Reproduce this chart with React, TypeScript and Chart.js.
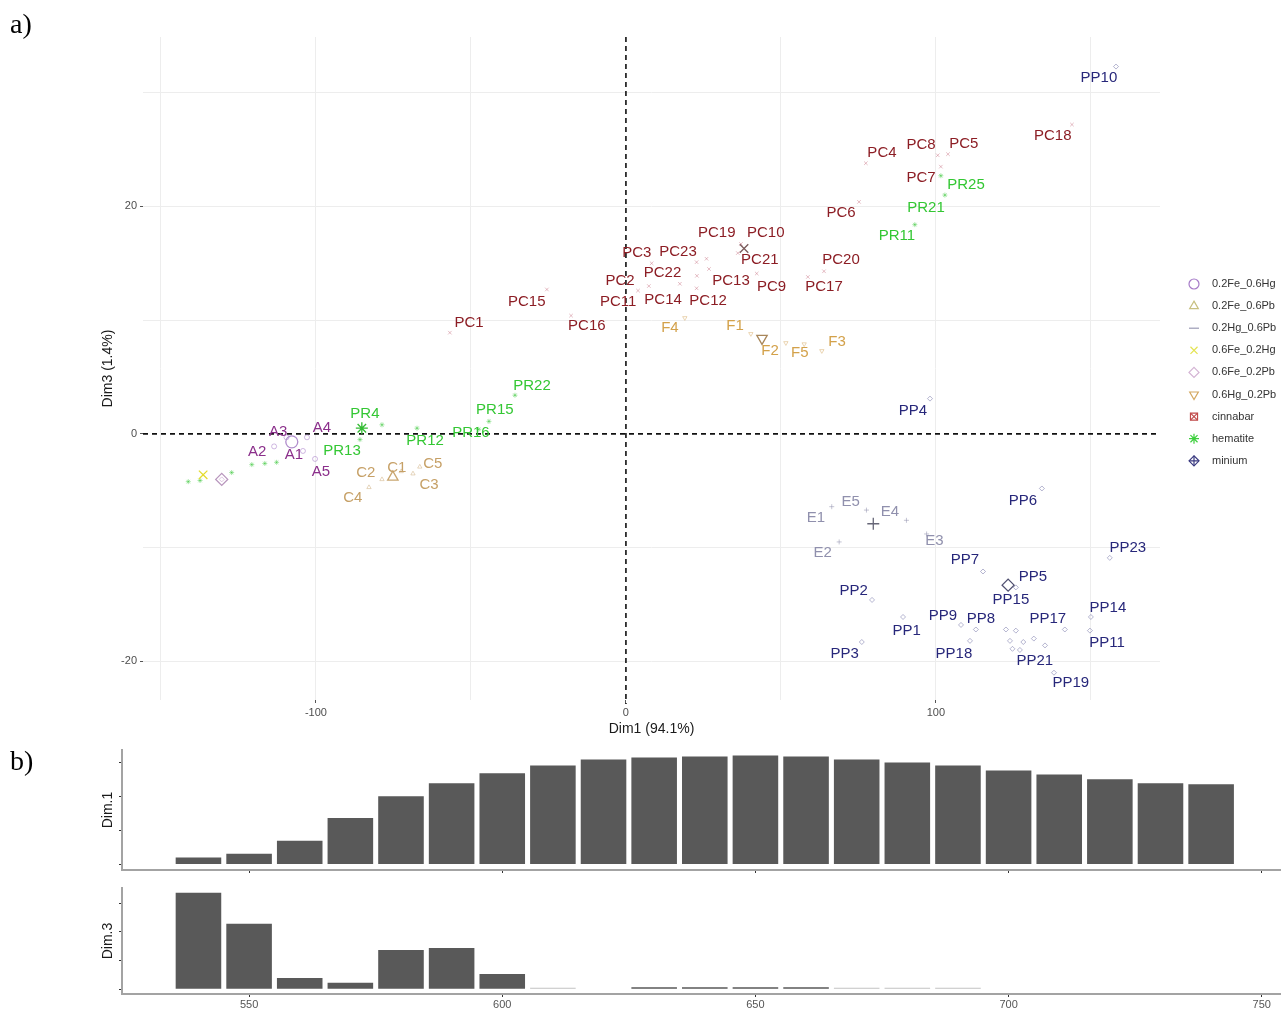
import React, { useEffect, useRef } from 'react';
import { Chart, registerables } from 'chart.js';
import { drawPoint } from 'chart.js/helpers';

Chart.register(...registerables);

const FONT = '"Liberation Sans", Arial, Helvetica, sans-serif';

// ---------- panel a) PCA individuals ----------
const GROUPS = ['0.2Fe_0.6Hg', '0.2Fe_0.6Pb', '0.2Hg_0.6Pb', '0.6Fe_0.2Hg', '0.6Fe_0.2Pb', '0.6Hg_0.2Pb', 'cinnabar', 'hematite', 'minium'];

const A_NAMES = ['A1', 'A2', 'A3', 'A4', 'A5'];
const A_DIM1 = [-104.2, -113.5, -109.5, -102.9, -100.3];
const A_DIM3 = [-1.5, -1.1, -0.3, -0.3, -2.2];
const A_LBL1 = [-107.1, -119.0, -112.2, -98.1, -98.4];
const A_LBL3 = [-1.8, -1.6, 0.2, 0.5, -3.3];

const C_NAMES = ['C1', 'C2', 'C3', 'C4', 'C5'];
const C_DIM1 = [-72.5, -78.7, -68.7, -82.9, -66.5];
const C_DIM3 = [-3.3, -4.0, -3.5, -4.7, -2.9];
const C_LBL1 = [-73.9, -83.9, -63.5, -88.1, -62.3];
const C_LBL3 = [-3.0, -3.4, -4.5, -5.6, -2.6];

const E_NAMES = ['E1', 'E2', 'E3', 'E4', 'E5'];
const E_DIM1 = [66.4, 68.8, 97.0, 90.5, 77.6];
const E_DIM3 = [-6.4, -9.5, -8.8, -7.6, -6.7];
const E_LBL1 = [61.3, 63.5, 99.5, 85.2, 72.5];
const E_LBL3 = [-7.4, -10.5, -9.4, -6.9, -6.0];

const FEHG_NAMES = [''];
const FEHG_DIM1 = [-136.4];
const FEHG_DIM3 = [-3.6];

const FEPB_NAMES = [''];
const FEPB_DIM1 = [-130.4];
const FEPB_DIM3 = [-4.0];

const F_NAMES = ['F1', 'F2', 'F3', 'F4', 'F5'];
const F_DIM1 = [40.3, 51.6, 63.2, 19.0, 57.5];
const F_DIM3 = [8.8, 8.0, 7.3, 10.2, 7.9];
const F_LBL1 = [35.2, 46.5, 68.1, 14.2, 56.1];
const F_LBL3 = [9.5, 7.3, 8.1, 9.3, 7.1];

const PC_NAMES = ['PC1', 'PC2', 'PC3', 'PC4', 'PC5', 'PC6', 'PC7', 'PC8', 'PC9', 'PC10', 'PC11', 'PC12', 'PC13', 'PC14', 'PC15', 'PC16', 'PC17', 'PC18', 'PC19', 'PC20', 'PC21', 'PC22', 'PC23'];
const PC_DIM1 = [-56.8, 7.4, 8.3, 77.4, 103.9, 75.2, 101.6, 100.6, 42.2, 37.1, 3.9, 22.8, 26.8, 17.4, -25.5, -17.7, 58.7, 143.9, 26.0, 63.9, 36.1, 22.9, 22.8];
const PC_DIM3 = [8.9, 13.0, 15.0, 23.8, 24.6, 20.4, 23.5, 24.5, 14.1, 16.7, 12.6, 12.8, 14.5, 13.2, 12.7, 10.4, 13.8, 27.2, 15.4, 14.3, 15.9, 13.9, 15.1];
const PC_LBL1 = [-50.6, -1.9, 3.5, 82.6, 109.0, 69.4, 95.2, 95.2, 47.0, 45.1, -2.5, 26.5, 33.9, 12.0, -32.0, -12.6, 63.9, 137.7, 29.3, 69.4, 43.2, 11.8, 16.8];
const PC_LBL3 = [9.8, 13.5, 15.9, 24.7, 25.5, 19.4, 22.5, 25.4, 12.9, 17.7, 11.6, 11.7, 13.5, 11.8, 11.6, 9.5, 12.9, 26.2, 17.7, 15.3, 15.3, 14.2, 16.0];

const PR_NAMES = ['PR4', 'PR11', 'PR12', 'PR13', 'PR15', 'PR16', 'PR21', 'PR22', 'PR25', '', '', '', '', '', ''];
const PR_DIM1 = [-78.7, 93.2, -67.4, -85.8, -44.2, -47.5, 102.9, -35.8, 101.6, -141.2, -137.4, -127.2, -120.7, -116.5, -112.7];
const PR_DIM3 = [0.8, 18.4, 0.5, -0.5, 1.1, 0.4, 21.0, 3.4, 22.7, -4.2, -4.1, -3.4, -2.7, -2.6, -2.5];
const PR_LBL1 = [-84.2, 87.4, -64.8, -91.6, -42.3, -50.0, 96.8, -30.3, 109.7, 0, 0, 0, 0, 0, 0];
const PR_LBL3 = [1.8, 17.4, -0.6, -1.5, 2.1, 0.1, 19.9, 4.2, 21.9, 0, 0, 0, 0, 0, 0];

const PP_NAMES = ['PP1', 'PP2', 'PP3', 'PP4', 'PP5', 'PP6', 'PP7', 'PP8', 'PP9', 'PP10', 'PP11', 'PP14', 'PP15', 'PP17', 'PP18', 'PP19', 'PP21', 'PP23', '', '', '', '', '', ''];
const PP_DIM1 = [89.4, 79.4, 76.1, 98.1, 125.8, 134.2, 115.2, 112.9, 108.1, 158.1, 149.7, 150.0, 122.6, 141.6, 111.0, 138.1, 131.6, 156.1, 125.8, 123.9, 128.2, 135.2, 124.7, 127.1];
const PP_DIM3 = [-16.1, -14.6, -18.3, 3.1, -13.5, -4.8, -12.1, -17.2, -16.8, 32.3, -17.3, -16.1, -17.2, -17.2, -18.2, -21.0, -18.0, -10.9, -17.3, -18.2, -18.3, -18.6, -18.9, -19.0];
const PP_LBL1 = [90.6, 73.5, 70.6, 92.6, 131.3, 128.1, 109.4, 114.5, 102.3, 152.6, 155.2, 155.5, 124.2, 136.1, 105.8, 143.5, 131.9, 161.9, 0, 0, 0, 0, 0, 0];
const PP_LBL3 = [-17.3, -13.8, -19.3, 2.0, -12.6, -5.9, -11.1, -16.3, -16.0, 31.3, -18.4, -15.3, -14.6, -16.3, -19.3, -21.9, -20.0, -10.0, 0, 0, 0, 0, 0, 0];

// group mean points (larger symbols)
const CENTROID_DIM1 = [-107.8, -75.2, 79.8, -136.4, -130.4, 43.9, 38.1, -85.2, 123.3];
const CENTROID_DIM3 = [-0.7, -3.8, -7.9, -3.6, -4.0, 8.4, 16.3, 0.5, -13.3];

const X_GRID = [-150, -100, -50, 0, 50, 100, 150];
const Y_GRID = [-20, -10, 0, 10, 20, 30];

// ---------- panel b) contributions ----------
const WAVELENGTHS = [540, 550, 560, 570, 580, 590, 600, 610, 620, 630, 640, 650, 660, 670, 680, 690, 700, 710, 720, 730, 740];
const DIM1_CONTRIB = [0.41, 0.64, 1.40, 2.73, 4.01, 4.77, 5.35, 5.81, 6.16, 6.28, 6.34, 6.40, 6.34, 6.16, 5.99, 5.81, 5.52, 5.29, 5.00, 4.77, 4.71];
const DIM3_CONTRIB = [33.6, 22.8, 3.9, 2.2, 13.7, 14.4, 5.3, 0.5, 0, 0.7, 0.7, 0.7, 0.7, 0.5, 0.5, 0.5, 0, 0, 0, 0, 0];
const BAR_X_TICKS = [550, 600, 650, 700, 750];
const DIM1_Y_TICKS = [0, 2, 4, 6];
const DIM3_Y_TICKS = [0, 10, 20, 30];

// ---------- styles ----------
const TEXT_COLORS = ['#8b2f8b', '#c6a066', '#9090ad', '#d8d040', '#c8a8cc', '#d3a14a', '#8c1d24', '#33c733', '#27277a'];
const POINT_COLORS = ['rgba(150,100,190,0.45)', 'rgba(200,165,110,0.45)', 'rgba(140,140,170,0.5)', 'rgba(220,215,60,0.8)', 'rgba(200,160,205,0.6)', 'rgba(210,165,90,0.45)', 'rgba(190,90,110,0.4)', 'rgba(60,200,60,0.45)', 'rgba(90,90,150,0.45)'];
const POINT_STYLES = ['circle', 'triangle', 'cross', 'crossRot', 'rectRot', 'triangle', 'crossRot', 'star', 'rectRot'];
const POINT_ROTATIONS = [0, 0, 0, 0, 0, 180, 0, 0, 0];
const CENTROID_COLORS = ['#b08ccc', '#c9a670', '#666677', '#e4dc30', '#b896bd', '#a8865a', '#7a5a5a', '#33bb33', '#505070'];
const LEGEND_COLORS = ['#a67bc8', '#c8c080', '#9a9ab5', '#e3e350', '#d4b4d4', '#d4a860', '#c04a4a', '#3ccf3c', '#3a3a80'];
const LEGEND_STYLES: string[][] = [['circle'], ['triangle'], ['line'], ['crossRot'], ['rectRot'], ['triangle'], ['rect', 'crossRot'], ['star'], ['rectRot', 'cross']];

const GROUP_DATA = [
  { names: A_NAMES, d1: A_DIM1, d3: A_DIM3, l1: A_LBL1, l3: A_LBL3 },
  { names: C_NAMES, d1: C_DIM1, d3: C_DIM3, l1: C_LBL1, l3: C_LBL3 },
  { names: E_NAMES, d1: E_DIM1, d3: E_DIM3, l1: E_LBL1, l3: E_LBL3 },
  { names: FEHG_NAMES, d1: FEHG_DIM1, d3: FEHG_DIM3, l1: FEHG_DIM1, l3: FEHG_DIM3 },
  { names: FEPB_NAMES, d1: FEPB_DIM1, d3: FEPB_DIM3, l1: FEPB_DIM1, l3: FEPB_DIM3 },
  { names: F_NAMES, d1: F_DIM1, d3: F_DIM3, l1: F_LBL1, l3: F_LBL3 },
  { names: PC_NAMES, d1: PC_DIM1, d3: PC_DIM3, l1: PC_LBL1, l3: PC_LBL3 },
  { names: PR_NAMES, d1: PR_DIM1, d3: PR_DIM3, l1: PR_LBL1, l3: PR_LBL3 },
  { names: PP_NAMES, d1: PP_DIM1, d3: PP_DIM3, l1: PP_LBL1, l3: PP_LBL3 },
];

const pcaPlugin: any = {
  id: 'pcaDecor',
  beforeDatasetsDraw(chart: any) {
    const { ctx, chartArea: a, scales } = chart;
    const x0 = scales.x.getPixelForValue(0);
    const y0 = scales.y.getPixelForValue(0);
    ctx.save();
    ctx.strokeStyle = '#111';
    ctx.lineWidth = 1.6;
    ctx.setLineDash([5, 4]);
    ctx.beginPath();
    ctx.moveTo(x0, a.top);
    ctx.lineTo(x0, a.bottom + 4);
    ctx.stroke();
    ctx.beginPath();
    ctx.moveTo(a.left, y0);
    ctx.lineTo(a.right, y0);
    ctx.stroke();
    ctx.restore();
  },
  afterDatasetsDraw(chart: any) {
    const { ctx, scales } = chart;
    ctx.save();
    ctx.font = `15px ${FONT}`;
    ctx.textAlign = 'center';
    ctx.textBaseline = 'middle';
    GROUP_DATA.forEach((g, gi) => {
      ctx.fillStyle = TEXT_COLORS[gi];
      g.names.forEach((n, j) => {
        if (!n) return;
        ctx.fillText(n, scales.x.getPixelForValue(g.l1[j]), scales.y.getPixelForValue(g.l3[j]));
      });
    });
    ctx.restore();
  },
  afterDraw(chart: any) {
    const { ctx } = chart;
    ctx.save();
    GROUPS.forEach((name, i) => {
      const y = 284 + i * 22.1;
      ctx.strokeStyle = LEGEND_COLORS[i];
      ctx.fillStyle = 'rgba(0,0,0,0)';
      ctx.lineWidth = 1.2;
      LEGEND_STYLES[i].forEach((st) => {
        drawPoint(ctx, { pointStyle: st as any, rotation: POINT_ROTATIONS[i], radius: 5, borderWidth: 1.2 } as any, 1194, y);
      });
      ctx.fillStyle = '#333';
      ctx.font = `11px ${FONT}`;
      ctx.textAlign = 'left';
      ctx.textBaseline = 'middle';
      ctx.fillText(name, 1212, y);
    });
    ctx.restore();
  },
};

function scatterConfig(): any {
  const datasets: any[] = GROUP_DATA.map((g, i) => ({
    label: GROUPS[i],
    data: g.d1.map((x, j) => ({ x, y: g.d3[j] })),
    pointStyle: POINT_STYLES[i],
    pointRotation: POINT_ROTATIONS[i],
    pointRadius: 2.5,
    pointBorderWidth: 1,
    pointBorderColor: POINT_COLORS[i],
    pointBackgroundColor: 'rgba(0,0,0,0)',
  }));
  datasets.unshift({
    label: 'means',
    data: CENTROID_DIM1.map((x, i) => ({ x, y: CENTROID_DIM3[i] })),
    pointStyle: POINT_STYLES,
    pointRotation: POINT_ROTATIONS,
    pointRadius: 6,
    pointBorderWidth: 1.3,
    pointBorderColor: CENTROID_COLORS,
    pointBackgroundColor: 'rgba(0,0,0,0)',
  });
  const tickFont = { size: 11, family: FONT };
  return {
    type: 'scatter',
    data: { datasets },
    plugins: [pcaPlugin],
    options: {
      responsive: false,
      animation: false,
      events: [],
      layout: { padding: { top: 37, right: 121, bottom: 0, left: 0 } },
      plugins: { legend: { display: false }, tooltip: { enabled: false } },
      scales: {
        x: {
          type: 'linear',
          min: -155.8,
          max: 172.3,
          afterBuildTicks: (s: any) => { s.ticks = X_GRID.map((v) => ({ value: v })); },
          afterFit: (s: any) => { s.height = 40; },
          border: { display: false },
          grid: {
            color: (c: any) => (c.tick && c.tick.value === 0 ? 'rgba(0,0,0,0)' : '#ededed'),
            lineWidth: 1,
            drawTicks: true,
            tickLength: 3,
            tickColor: (c: any) => (c.tick && c.tick.value % 100 === 0 ? '#555' : 'rgba(0,0,0,0)'),
          },
          ticks: {
            autoSkip: false,
            maxRotation: 0,
            padding: 3,
            color: '#4d4d4d',
            font: tickFont,
            callback: (v: any) => (Number(v) % 100 === 0 ? String(v) : ''),
          },
          title: { display: true, text: 'Dim1 (94.1%)', color: '#1a1a1a', font: { size: 14, family: FONT }, padding: { top: 0, bottom: 2.6 } },
        },
        y: {
          type: 'linear',
          min: -23.4,
          max: 34.9,
          afterBuildTicks: (s: any) => { s.ticks = Y_GRID.map((v) => ({ value: v })); },
          afterFit: (s: any) => { s.width = 143; },
          border: { display: false },
          grid: {
            color: (c: any) => (c.tick && c.tick.value === 0 ? 'rgba(0,0,0,0)' : '#ededed'),
            lineWidth: 1,
            drawTicks: true,
            tickLength: 3,
            tickColor: (c: any) => (c.tick && c.tick.value % 20 === 0 ? '#555' : 'rgba(0,0,0,0)'),
          },
          ticks: {
            autoSkip: false,
            padding: 3,
            color: '#4d4d4d',
            font: tickFont,
            callback: (v: any) => (Number(v) % 20 === 0 ? String(v) : ''),
          },
          title: { display: true, text: 'Dim3 (1.4%)', color: '#1a1a1a', font: { size: 14, family: FONT }, padding: { top: 99.6, bottom: 0 } },
        },
      },
    },
  };
}

function barConfig(values: number[], yMin: number, yMax: number, yTicks: number[], title: string, showXLabels: boolean, xHeight: number, padTop: number, faintBelow: number): any {
  const axisColor = '#a3a3a3';
  return {
    type: 'bar',
    data: {
      datasets: [{
        data: WAVELENGTHS.map((w, i) => ({ x: w, y: values[i] })),
        backgroundColor: (c: any) => (c.raw && c.raw.y < faintBelow ? '#c2c2c2' : '#595959'),
        borderWidth: 0,
        barPercentage: 0.9,
        categoryPercentage: 1,
      }],
    },
    options: {
      responsive: false,
      animation: false,
      events: [],
      layout: { padding: { top: padTop, right: 0, bottom: 0, left: 0 } },
      plugins: { legend: { display: false }, tooltip: { enabled: false } },
      scales: {
        x: {
          type: 'linear',
          min: 524.9,
          max: 753.8,
          offset: false,
          afterBuildTicks: (s: any) => { s.ticks = BAR_X_TICKS.map((v) => ({ value: v })); },
          afterFit: (s: any) => { s.height = xHeight; },
          border: { display: true, color: axisColor, width: 2 },
          grid: { drawOnChartArea: false, drawTicks: true, tickLength: 3, tickColor: '#333', offset: false },
          ticks: {
            autoSkip: false,
            maxRotation: 0,
            padding: 1,
            color: '#555',
            font: { size: 11, family: FONT },
            callback: (v: any) => (showXLabels ? String(v) : ''),
          },
        },
        y: {
          type: 'linear',
          min: yMin,
          max: yMax,
          afterBuildTicks: (s: any) => { s.ticks = yTicks.map((v) => ({ value: v })); },
          afterFit: (s: any) => { s.width = 122; },
          border: { display: true, color: axisColor, width: 2 },
          grid: { drawOnChartArea: false, drawTicks: true, tickLength: 3, tickColor: '#333' },
          ticks: { padding: 0, callback: () => '' },
          title: { display: true, text: title, color: '#1a1a1a', font: { size: 14, family: FONT }, padding: { top: 99.6, bottom: 0 } },
        },
      },
    },
  };
}

export default function App() {
  const scatterRef = useRef<HTMLCanvasElement>(null);
  const bar1Ref = useRef<HTMLCanvasElement>(null);
  const bar3Ref = useRef<HTMLCanvasElement>(null);

  useEffect(() => {
    const charts: Chart[] = [];
    if (scatterRef.current) charts.push(new Chart(scatterRef.current, scatterConfig()));
    if (bar1Ref.current) charts.push(new Chart(bar1Ref.current, barConfig(DIM1_CONTRIB, -0.32, 6.72, DIM1_Y_TICKS, 'Dim.1', false, 10, 10, 0)));
    if (bar3Ref.current) charts.push(new Chart(bar3Ref.current, barConfig(DIM3_CONTRIB, -1.68, 35.28, DIM3_Y_TICKS, 'Dim.3', true, 15, 8, 0.6)));
    return () => charts.forEach((c) => c.destroy());
  }, []);

  const letter: React.CSSProperties = {
    position: 'absolute',
    left: 10,
    fontFamily: '"Liberation Serif", "Times New Roman", serif',
    fontSize: 28,
    lineHeight: '30px',
    color: '#000',
  };

  return (
    <div style={{ position: 'absolute', left: 0, top: 0, width: 1281, height: 1009, background: '#fff', overflow: 'hidden' }}>
      <canvas ref={scatterRef} width={1281} height={740} style={{ position: 'absolute', left: 0, top: 0 }} />
      <canvas ref={bar1Ref} width={1281} height={140} style={{ position: 'absolute', left: 0, top: 740 }} />
      <canvas ref={bar3Ref} width={1281} height={129} style={{ position: 'absolute', left: 0, top: 880 }} />
      <div style={{ ...letter, top: 9 }}>a)</div>
      <div style={{ ...letter, top: 746 }}>b)</div>
    </div>
  );
}
